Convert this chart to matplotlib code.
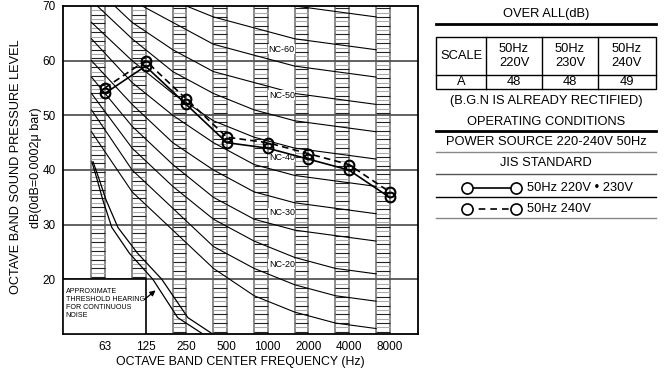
import numpy as np
import matplotlib
matplotlib.use('Agg')
import matplotlib.pyplot as plt
from matplotlib.patches import Rectangle

plt.rcParams['font.family'] = ['Liberation Sans', 'DejaVu Sans']

# 옥타브 밴드
bands = ['63', '125', '250', '500', '1000', '2000', '4000', '8000']
band_pos = np.arange(1, len(bands) + 1)
strip_bottom = [20, 20, 10, 10, 10, 10, 10, 10]

# 측정값 (dB)
spl_220_230 = [54, 59, 52, 45, 44, 42, 40, 35]
spl_240 = [55, 60, 53, 46, 45, 43, 41, 36]

# NC 곡선 (63 ~ 8000Hz)
nc15 = [47, 36, 29, 22, 17, 14, 12, 11]
nc20 = [51, 40, 33, 26, 22, 19, 17, 16]
nc25 = [54, 44, 37, 31, 27, 24, 22, 21]
nc30 = [57, 48, 41, 35, 31, 29, 28, 27]
nc35 = [60, 52, 45, 40, 36, 34, 33, 32]
nc40 = [64, 56, 50, 45, 41, 39, 38, 37]
nc45 = [67, 60, 54, 49, 46, 44, 43, 42]
nc50 = [71, 64, 58, 54, 51, 49, 48, 47]
nc55 = [74, 67, 62, 58, 56, 54, 53, 52]
nc60 = [77, 71, 67, 63, 61, 59, 58, 57]
nc65 = [80, 75, 71, 68, 66, 64, 63, 62]
nc70 = [83, 79, 75, 72, 71, 70, 69, 68]
nc_curves = [nc15, nc20, nc25, nc30, nc35, nc40, nc45, nc50, nc55, nc60, nc65, nc70]

nc_labels = ['NC-60', 'NC-50', 'NC-40', 'NC-30', 'NC-20']
nc_label_y = [62.1, 53.7, 42.3, 32.2, 22.8]
nc_label_x = 5.35

# 최소 가청 한계 곡선 (두 줄)
thr_a_x = [0.68, 0.80, 0.95, 1.17, 1.60, 2.18, 2.79, 3.41]
thr_a_y = [41.5, 38.5, 34.5, 29.5, 24.8, 20.0, 13.0, 10.0]
thr_b_x = [0.71, 0.85, 1.03, 1.32, 1.80, 2.40, 3.04, 3.65]
thr_b_y = [41.5, 38.5, 34.5, 29.5, 24.8, 20.0, 13.0, 10.0]

# 오른쪽 표
scale_header = ['SCALE', '50Hz\n220V', '50Hz\n230V', '50Hz\n240V']
scale_a = ['A', '48', '48', '49']

fig = plt.figure(figsize=(6.64, 3.72), dpi=100)
ax = fig.add_axes([63 / 664, 1 - 334 / 372, (418 - 63) / 664, (334 - 6) / 372])
ax.set_xlim(-0.03, 8.7)
ax.set_ylim(10, 70)

# 밴드 사다리 무늬
strip_w = 0.33
rung_step = 0.8
for pos, bottom in zip(band_pos, strip_bottom):
    ax.vlines([pos - strip_w, pos], bottom, 70, colors='#777777', lw=1.2, zorder=1)
    ys = np.arange(bottom + rung_step / 2, 70, rung_step)
    cols = ['#222222' if k % 2 == 0 else '#aaaaaa' for k in range(len(ys))]
    ax.hlines(ys, pos - strip_w, pos, colors=cols, lw=0.8, zorder=1)

# 가로 격자
for y in [20, 30, 40, 50, 60]:
    ax.axhline(y, color='#555555', lw=1.3, zorder=1.5)

# NC 곡선
for curve in nc_curves:
    ax.plot(band_pos - strip_w, curve, color='black', lw=0.8, zorder=2)

# 가청 한계
ax.plot(thr_a_x, thr_a_y, color='black', lw=0.9, zorder=2)
ax.plot(thr_b_x, thr_b_y, color='black', lw=0.9, zorder=2)

# NC 라벨
for lab, y in zip(nc_labels, nc_label_y):
    ax.text(nc_label_x, y, lab, ha='center', va='center', fontsize=6.5, zorder=3,
            bbox=dict(facecolor='white', edgecolor='none', pad=0.3))

# 설명 상자
ax.add_patch(Rectangle((-0.03, 10), 2.03, 10, facecolor='white', edgecolor='black',
                       lw=1.2, zorder=3))
ax.text(0.04, 15.6, 'APPROXIMATE\nTHRESHOLD HEARING\nFOR CONTINUOUS\nNOISE',
        ha='left', va='center', fontsize=5.1, linespacing=1.25, zorder=4)
ax.annotate('', xy=(2.3, 18.3), xytext=(1.92, 16.0),
            arrowprops=dict(arrowstyle='-|>', color='black', lw=0.9, mutation_scale=8),
            zorder=4)

# 측정 데이터
ax.plot(band_pos, spl_220_230, color='black', lw=1.2, marker='o', markersize=7,
        mfc='none', mec='black', mew=1.5, zorder=5)
ax.plot(band_pos, spl_240, color='black', lw=1.2, ls=(0, (4, 2.5)), marker='o',
        markersize=7, mfc='none', mec='black', mew=1.5, zorder=5)

ax.set_xticks(band_pos, bands)
ax.set_yticks([20, 30, 40, 50, 60, 70])
ax.tick_params(length=0, pad=5, labelsize=8.5)
for sp in ax.spines.values():
    sp.set_linewidth(1.3)
ax.set_xlabel('OCTAVE BAND CENTER FREQUENCY (Hz)', fontsize=8.9, labelpad=2)

fig.text(16 / 664, 1 - 167 / 372, 'OCTAVE BAND SOUND PRESSURE LEVEL', rotation=90,
         ha='center', va='center', fontsize=9.2)
fig.text(36 / 664, 1 - 168 / 372, 'dB(0dB=0.0002\u03bc bar)', rotation=90,
         ha='center', va='center', fontsize=9)

# 오른쪽 표 (픽셀 좌표)
tab = fig.add_axes([0, 0, 1, 1])
tab.set_xlim(0, 664)
tab.set_ylim(372, 0)
tab.axis('off')

fs = 9.3
x0, x1 = 436, 656
xc = (x0 + x1) / 2
tab.text(xc, 14, 'OVER ALL(dB)', ha='center', va='center', fontsize=fs)
tab.plot([x0, x1], [24, 24], color='black', lw=2)

col_edges = [436, 486, 542, 598, 656]
tab.add_patch(Rectangle((x0, 37), x1 - x0, 52, facecolor='none', edgecolor='black', lw=1))
tab.plot([x0, x1], [75, 75], color='black', lw=1)
for cx in col_edges[1:-1]:
    tab.plot([cx, cx], [37, 89], color='black', lw=1)
for i in range(4):
    mid = (col_edges[i] + col_edges[i + 1]) / 2
    tab.text(mid, 56, scale_header[i], ha='center', va='center', fontsize=fs,
             linespacing=1.15)
    tab.text(mid, 82, scale_a[i], ha='center', va='center', fontsize=fs)

tab.text(xc, 101, '(B.G.N IS ALREADY RECTIFIED)', ha='center', va='center', fontsize=fs)
tab.text(xc, 122, 'OPERATING CONDITIONS', ha='center', va='center', fontsize=fs)
tab.plot([x0, x1], [131, 131], color='black', lw=2)
tab.text(xc, 142, 'POWER SOURCE 220-240V 50Hz', ha='center', va='center', fontsize=fs)
tab.plot([x0, x1], [152, 152], color='#888888', lw=1)
tab.text(xc, 163, 'JIS STANDARD', ha='center', va='center', fontsize=fs)
tab.plot([x0, x1], [174, 174], color='#555555', lw=1)

tab.plot([467, 516], [188, 188], color='black', lw=1.2, marker='o', markersize=8,
         mfc='white', mec='black', mew=1.2)
tab.text(527, 188, '50Hz 220V \u2022 230V', ha='left', va='center', fontsize=fs)
tab.plot([x0, x1], [197, 197], color='black', lw=1)
tab.plot([467, 516], [209, 209], color='black', lw=1.2, ls=(0, (4, 3)), marker='o',
         markersize=8, mfc='white', mec='black', mew=1.2)
tab.text(527, 209, '50Hz 240V', ha='left', va='center', fontsize=fs)
tab.plot([x0, x1], [218, 218], color='#888888', lw=1)

fig.savefig('out.png', dpi=100)
